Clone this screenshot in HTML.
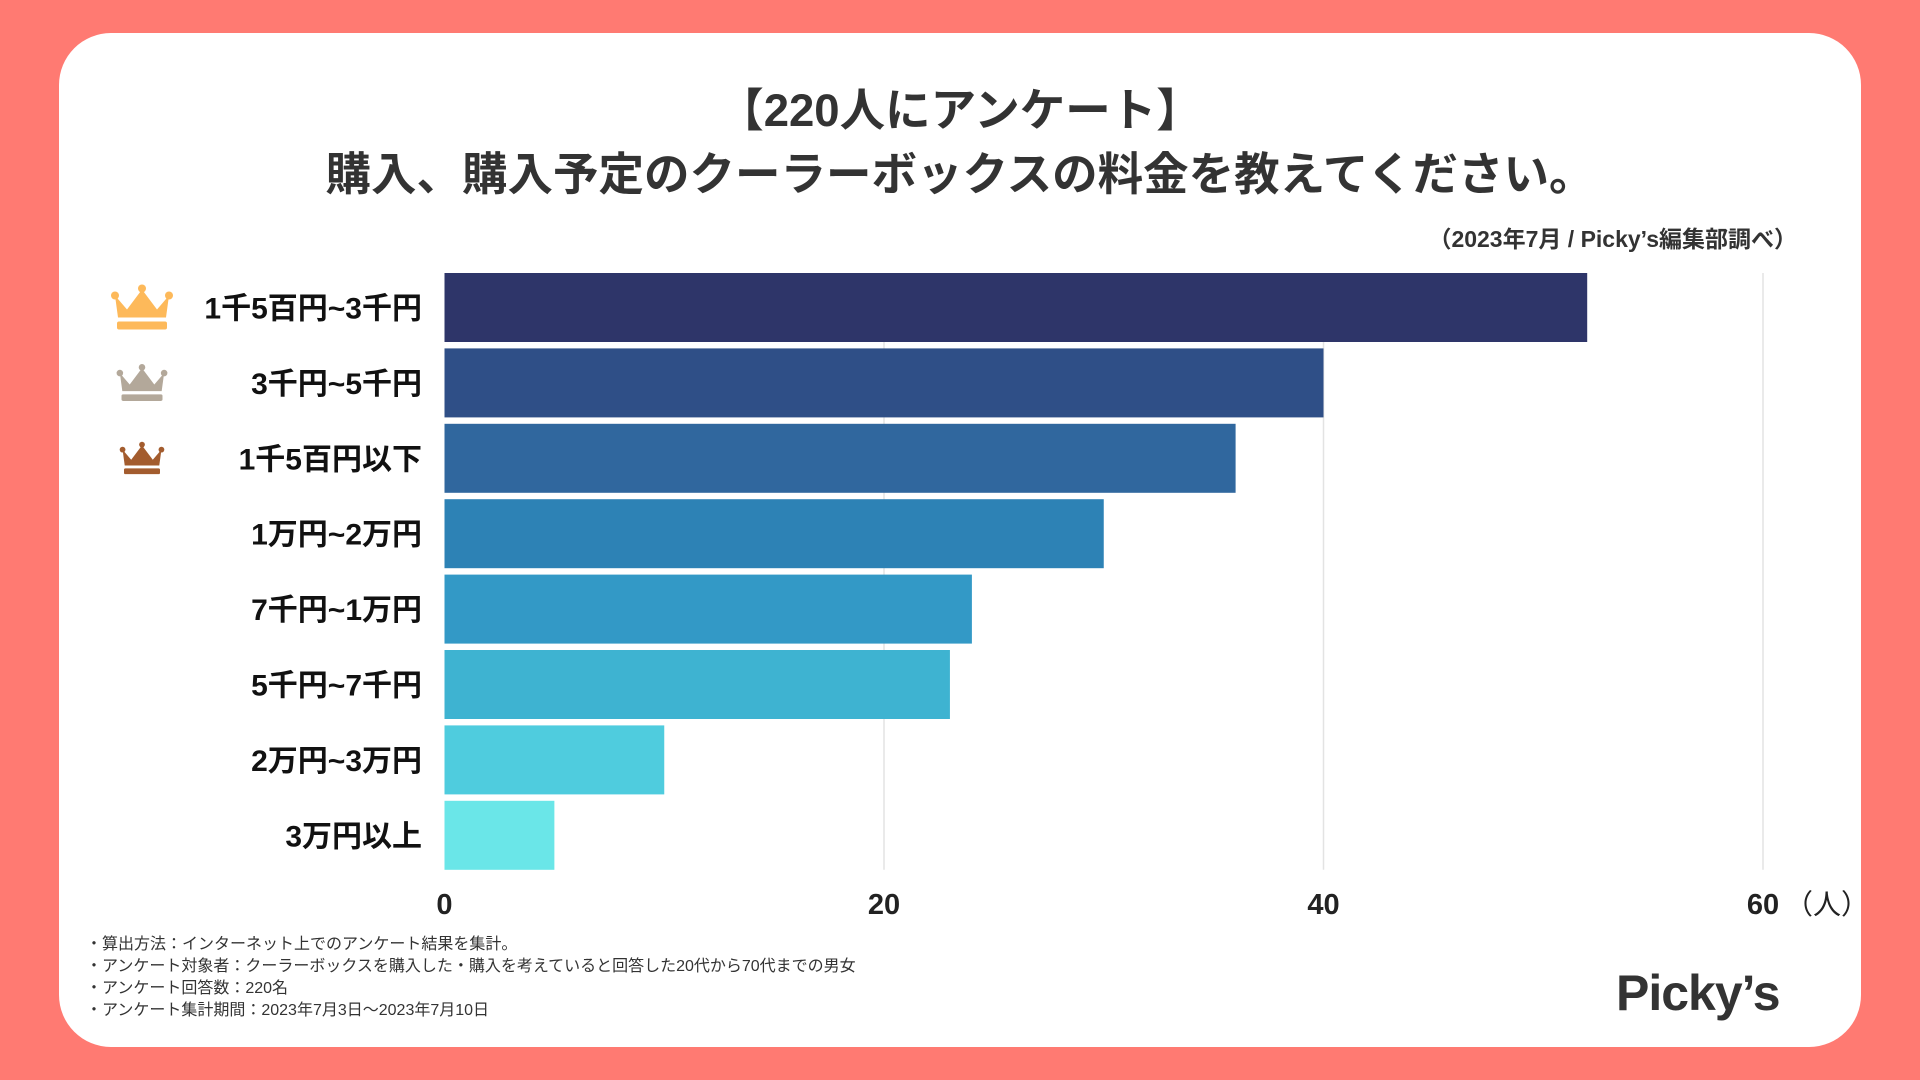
<!DOCTYPE html>
<html><head><meta charset="utf-8">
<style>
html,body{margin:0;padding:0;width:1920px;height:1080px;overflow:hidden;background:#FF7A72;font-family:"Liberation Sans","Noto Sans CJK JP",sans-serif;}
#card{position:absolute;left:59px;top:33px;width:1802px;height:1014px;background:#fff;border-radius:52px;}
.t{position:absolute;left:0;width:1920px;text-align:center;font-weight:bold;color:#333;font-size:45.5px;}
</style></head><body>
<div id="card"></div>
<div class="t" style="top:74px">【220人にアンケート】</div>
<div class="t" style="top:138px">購入、購入予定のクーラーボックスの料金を教えてください。</div>
<div style="position:absolute;right:123px;top:220px;font-size:23px;color:#333;font-weight:bold">（2023年7月 / Picky’s編集部調べ）</div>
<svg id="chart" width="1920" height="1080" style="position:absolute;left:0;top:0"></svg>
<div style="position:absolute;left:86px;top:934px;font-size:16px;line-height:22px;color:#333">
<div>・算出方法：インターネット上でのアンケート結果を集計。</div>
<div>・アンケート対象者：クーラーボックスを購入した・購入を考えていると回答した20代から70代までの男女</div>
<div>・アンケート回答数：220名</div>
<div>・アンケート集計期間：2023年7月3日〜2023年7月10日</div>
</div>
<div style="position:absolute;left:1616px;top:964px;font-size:50px;font-weight:bold;color:#333;letter-spacing:-1px">Picky’s</div>
<script>
const categories=["1千5百円~3千円","3千円~5千円","1千5百円以下","1万円~2万円","7千円~1万円","5千円~7千円","2万円~3万円","3万円以上"];
const values=[52,40,36,30,24,23,10,5];
const colors=["#2E3569","#2F4F87","#30679E","#2D82B5","#3399C6","#3EB3D1","#4FCCDE","#6AE6E8"];
const ticks=[0,20,40,60];
const crownColors=["#FDB95A","#B3A89A","#A35C2E"];
const svg=document.getElementById('chart');
const NS='http://www.w3.org/2000/svg';
const x0=444.5,x1=1763,xmax=60,top0=273,pitch=75.4,bh=69;
const xs=v=>x0+(x1-x0)*v/xmax;
const ys=i=>top0+i*pitch;
function mk(t,a){const e=document.createElementNS(NS,t);for(const k in a)e.setAttribute(k,a[k]);svg.appendChild(e);return e;}
ticks.forEach((t,i)=>{
  if(t>0){const l=mk('line',{x1:xs(t),x2:xs(t),y1:top0,y2:ys(categories.length-1)+bh,stroke:'#e3e3e3','stroke-width':1.5});
  
  }
  const tx=mk('text',{x:xs(t),y:914,'text-anchor':'middle','font-size':29,'font-weight':'bold',fill:'#222'});
  tx.textContent=t;
  
  
});
const unit=mk('text',{x:xs(60)+22,y:914,'font-size':28,fill:'#222'});unit.textContent='（人）';


categories.forEach((c,i)=>{
  const r=mk('rect',{x:x0,y:ys(i),width:xs(values[i])-x0,height:bh,fill:colors[i]});
  
  
  const t=mk('text',{x:422,y:ys(i)+bh/2+11,'text-anchor':'end','font-size':30,'font-weight':'bold',fill:'#111'});
  t.textContent=c;
  
  
  if(i<3){
    const s=[1,0.82,0.72][i],cx=142,cy=ys(i)+bh/2,col=crownColors[i];
    const g=document.createElementNS(NS,'g');
    g.setAttribute('transform',`translate(${cx},${cy}) scale(${s})`);
    g.setAttribute('fill',col);
    g.innerHTML='<path d="M-27,-12 L-15,2 L0,-18 L15,2 L27,-12 L24,10 L-24,10 Z"/><circle cx="-27" cy="-12" r="4"/><circle cx="27" cy="-12" r="4"/><circle cx="0" cy="-19" r="4"/><rect x="-25" y="14" width="50" height="8" rx="2"/>';
    
    
    svg.appendChild(g);
  }
});
</script>
</body></html>
